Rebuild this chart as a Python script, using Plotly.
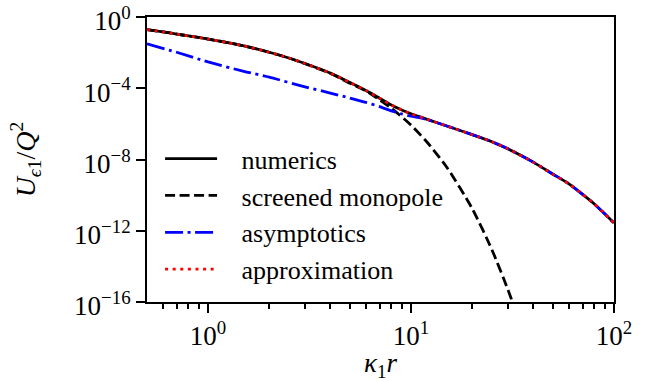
import plotly.graph_objects as go

# ---- data ----
x_numerics = [0.5, 0.6, 0.7, 0.8, 1, 1.25, 1.5, 2, 2.5, 3, 4, 5, 6, 7, 8, 9, 10,
              12, 15, 20, 25, 30, 40, 50, 60, 70, 80, 90, 100]
y_numerics = [0.195, 0.145, 0.110, 0.0871, 0.0575, 0.0363, 0.0240, 0.0105, 5.0e-3,
              2.45e-3, 7.1e-4, 2.1e-4, 7.4e-5, 2.75e-5, 1.15e-5, 6.0e-6, 3.7e-6,
              1.8e-6, 7.6e-7, 2.5e-7, 1.0e-7, 4.0e-8, 7.1e-9, 1.5e-9, 4.3e-10,
              1.1e-10, 3.2e-11, 8.9e-12, 2.7e-12]

x_monopole = [0.5, 0.6, 0.7, 0.8, 1, 1.25, 1.5, 2, 2.5, 3, 4, 5, 6, 7, 8, 10, 12,
              15, 20, 25, 30, 33]
y_monopole = [0.195, 0.145, 0.110, 0.0871, 0.0575, 0.0363, 0.0240, 0.0105, 5.0e-3,
              2.4e-3, 6.9e-4, 1.9e-4, 7.1e-5, 2.2e-5, 7.6e-6, 8.5e-7, 9.3e-8,
              3.7e-9, 1.8e-11, 8.9e-14, 5.0e-16, 2.5e-17]

x_asymptotics = [0.5, 0.7, 1, 1.5, 2, 3, 4, 5, 6, 7, 8, 9, 10, 12, 15, 20, 25, 30,
                 40, 50, 60, 70, 80, 90, 100]
y_asymptotics = [3.1e-2, 1.05e-2, 3.0e-3, 8.9e-4, 4.2e-4, 1.2e-4, 5.4e-5, 2.8e-5,
                 1.6e-5, 9.3e-6, 5.4e-6, 3.6e-6, 2.7e-6, 1.75e-6, 7.6e-7, 2.5e-7,
                 1.0e-7, 4.0e-8, 7.1e-9, 1.5e-9, 4.3e-10, 1.1e-10, 3.2e-11,
                 8.9e-12, 2.7e-12]

x_approximation = [0.5, 0.6, 0.7, 0.8, 1, 1.25, 1.5, 2, 2.5, 3, 4, 5, 6, 7, 8, 9, 10,
                   12, 15, 20, 25, 30, 40, 50, 60, 70, 80, 90, 100]
y_approximation = [0.195, 0.145, 0.110, 0.0871, 0.0575, 0.0363, 0.0240, 0.0105, 5.0e-3,
                   2.45e-3, 7.1e-4, 2.1e-4, 7.4e-5, 2.75e-5, 1.15e-5, 6.0e-6, 3.7e-6,
                   1.8e-6, 7.6e-7, 2.5e-7, 1.0e-7, 4.0e-8, 7.1e-9, 1.5e-9, 4.3e-10,
                   1.1e-10, 3.2e-11, 8.9e-12, 2.7e-12]

series_names = ["numerics", "screened monopole", "asymptotics", "approximation"]

x_tickvals = [1, 10, 100]
x_ticktext = ["10<sup>0</sup>", "10<sup>1</sup>", "10<sup>2</sup>"]
x_minor = [0.6, 0.7, 0.8, 0.9, 2, 3, 4, 5, 6, 7, 8, 9, 20, 30, 40, 50, 60, 70, 80, 90]
y_tickvals = [1, 1e-4, 1e-8, 1e-12, 1e-16]
y_ticktext = ["10<sup>0</sup>", "10<sup>\u22124</sup>", "10<sup>\u22128</sup>",
              "10<sup>\u221212</sup>", "10<sup>\u221216</sup>"]
x_title = "<i>\u03ba</i><sub>1</sub><i>r</i>"
y_title = "<i>U</i><sub><i>\u03f5</i>1</sub>/<i>Q</i><sup>2</sup>"

FONT = "Liberation Serif"
LW = 2.8
PAD = "\u00a0\u00a0\u00a0"

fig = go.Figure()
fig.add_trace(go.Scatter(x=x_numerics, y=y_numerics, mode="lines", name=PAD + series_names[0],
                         line=dict(color="black", width=LW, shape="spline", smoothing=0.6)))
fig.add_trace(go.Scatter(x=x_monopole, y=y_monopole, mode="lines", name=PAD + series_names[1],
                         line=dict(color="black", width=LW, dash="10px,4.5px",
                                   shape="spline", smoothing=0.6)))
fig.add_trace(go.Scatter(x=x_asymptotics, y=y_asymptotics, mode="lines", name=PAD + series_names[2],
                         line=dict(color="#0000ff", width=LW, dash="18px,4.5px,3px,4.5px",
                                   shape="spline", smoothing=0.6)))
fig.add_trace(go.Scatter(x=x_approximation, y=y_approximation, mode="lines", name=PAD + series_names[3],
                         line=dict(color="#ff0000", width=LW, dash="3px,4.6px",
                                   shape="spline", smoothing=0.6)))

axis_common = dict(showline=True, linecolor="black", linewidth=2, mirror=True,
                   showgrid=False, zeroline=False, ticks="outside", ticklen=9,
                   tickwidth=2, tickcolor="black", ticklabeloverflow="allow",
                   tickfont=dict(family=FONT, size=27, color="black"))

fig.update_xaxes(type="log", range=[-0.30103, 2], tickmode="array",
                 tickvals=x_tickvals, ticktext=x_ticktext,
                 minor=dict(ticks="outside", ticklen=5, tickwidth=1.5, tickcolor="black",
                            tickmode="array", tickvals=x_minor, showgrid=False),
                 **axis_common)
fig.update_yaxes(type="log", range=[-16, 0], tickmode="array",
                 tickvals=y_tickvals, ticktext=y_ticktext, ticklabelshift=4,
                 title=dict(text=y_title,
                            font=dict(family=FONT, size=28, color="black"), standoff=30),
                 **axis_common)

fig.add_annotation(text=x_title, xref="paper", yref="paper", x=0.5, y=-0.222,
                   xanchor="center", yanchor="middle", showarrow=False, borderpad=0,
                   font=dict(family=FONT, size=27, color="black"))

fig.update_layout(
    width=657, height=381,
    margin=dict(l=147, r=43, t=17, b=79, autoexpand=False),
    paper_bgcolor="white", plot_bgcolor="white",
    showlegend=True,
    legend=dict(x=0.028, y=0.585, xanchor="left", yanchor="top",
                bgcolor="rgba(0,0,0,0)", borderwidth=0,
                font=dict(family=FONT, size=26, color="black"),
                itemwidth=52, tracegroupgap=0),
)

fig.write_html("out.html", config={"displayModeBar": False})

# remove the browser's default page margin so the figure sits at the window's corner
with open("out.html", "r", encoding="utf-8") as f:
    html = f.read()
html = html.replace("<head>", "<head><style>html,body{margin:0;padding:0;}</style>", 1)
with open("out.html", "w", encoding="utf-8") as f:
    f.write(html)
